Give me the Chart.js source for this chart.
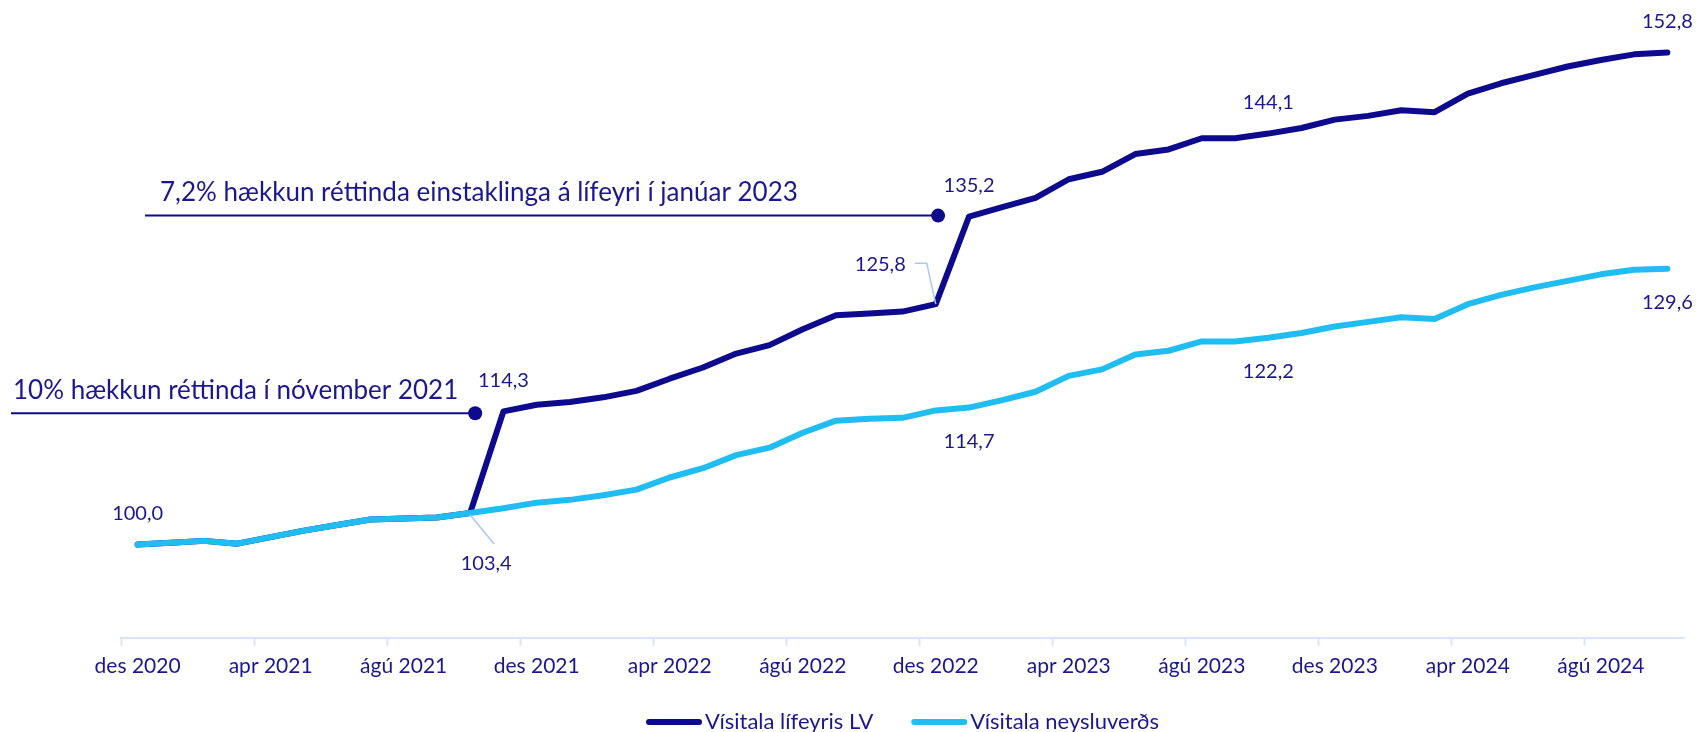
<!DOCTYPE html>
<html lang="is">
<head>
<meta charset="UTF-8">
<title>Vísitala lífeyris LV og vísitala neysluverðs</title>
<script src="https://cdn.jsdelivr.net/npm/chart.js"></script>
<style>
  html, body { margin: 0; padding: 0; background: #fff; }
  #wrap { width: 1697px; height: 732px; }
</style>
</head>
<body>
<div id="wrap"><canvas id="graf" width="1697" height="732"></canvas></div>
<script>
  // mánuðir, des 2020 - okt 2024
  const manudir = [
    'des 2020',
    'jan 2021', 'feb 2021', 'mar 2021', 'apr 2021', 'maí 2021', 'jún 2021', 'júl 2021', 'ágú 2021', 'sep 2021', 'okt 2021', 'nóv 2021', 'des 2021',
    'jan 2022', 'feb 2022', 'mar 2022', 'apr 2022', 'maí 2022', 'jún 2022', 'júl 2022', 'ágú 2022', 'sep 2022', 'okt 2022', 'nóv 2022', 'des 2022',
    'jan 2023', 'feb 2023', 'mar 2023', 'apr 2023', 'maí 2023', 'jún 2023', 'júl 2023', 'ágú 2023', 'sep 2023', 'okt 2023', 'nóv 2023', 'des 2023',
    'jan 2024', 'feb 2024', 'mar 2024', 'apr 2024', 'maí 2024', 'jún 2024', 'júl 2024', 'ágú 2024', 'sep 2024', 'okt 2024'
  ];
  // merktir mánuðir á x-ás
  const asMerki = ['des 2020', 'apr 2021', 'ágú 2021', 'des 2021', 'apr 2022', 'ágú 2022', 'des 2022', 'apr 2023', 'ágú 2023', 'des 2023', 'apr 2024', 'ágú 2024'];

  const lifeyrir = [
    100.0, 100.2, 100.4, 100.1, 100.8, 101.5, 102.1, 102.7, 102.8, 102.9, 103.4, 114.3,
    115.0, 115.3, 115.8, 116.5, 117.8, 119.0, 120.5, 121.4, 123.1, 124.6, 124.8, 125.0,
    125.8, 135.2, 136.2, 137.2, 139.2, 140.0, 141.9, 142.4, 143.6, 143.6, 144.1, 144.7,
    145.6, 146.0, 146.6, 146.4, 148.4, 149.5, 150.4, 151.3, 152.0, 152.6, 152.8
  ];
  const neysluverd = [
    100.0, 100.2, 100.4, 100.1, 100.8, 101.5, 102.1, 102.7, 102.8, 102.9, 103.4, 103.9,
    104.5, 104.8, 105.3, 105.9, 107.2, 108.2, 109.6, 110.4, 112.0, 113.3, 113.5, 113.6,
    114.4, 114.7, 115.5, 116.4, 118.1, 118.8, 120.4, 120.8, 121.8, 121.8, 122.2, 122.7,
    123.4, 123.9, 124.4, 124.2, 125.8, 126.8, 127.6, 128.3, 129.0, 129.5, 129.6
  ];

  // gildi sem eru merkt á línurnar (röð 0 = lífeyrir, 1 = neysluverð)
  const merktOfan = [[0, 11], [0, 25], [0, 34], [0, 46], [1, 0]];
  const merktNedan = [[1, 25], [1, 34], [1, 46]];

  const dokkur = '#0d0a8e';
  const ljos = '#20bdf3';
  const textalitur = '#1b1793';
  const aslitur = '#d9e5f7';
  const leidari = '#a8c8f3';
  const letur = 'Lato, "Open Sans", sans-serif';

  const tala = v => v.toFixed(1).replace('.', ',');

  const skyringar = {
    id: 'skyringar',
    afterDatasetsDraw(chart) {
      const { ctx, scales: { x, y } } = chart;
      const gogn = [lifeyrir, neysluverd];
      ctx.save();
      ctx.fillStyle = textalitur;
      ctx.font = '20px ' + letur;
      ctx.textAlign = 'center';
      ctx.textBaseline = 'middle';
      merktOfan.forEach(([r, i]) => {
        ctx.fillText(tala(gogn[r][i]), x.getPixelForValue(i), y.getPixelForValue(gogn[r][i]) - 31);
      });
      merktNedan.forEach(([r, i]) => {
        ctx.fillText(tala(gogn[r][i]), x.getPixelForValue(i), y.getPixelForValue(gogn[r][i]) + 34);
      });

      // 103,4 með leiðara
      let px = x.getPixelForValue(10), py = y.getPixelForValue(neysluverd[10]);
      ctx.strokeStyle = leidari;
      ctx.lineWidth = 1.5;
      ctx.beginPath();
      ctx.moveTo(px, py + 2);
      ctx.lineTo(px + 24, py + 31);
      ctx.stroke();
      ctx.fillText(tala(neysluverd[10]), px + 16, py + 51);

      // 125,8 með leiðara
      px = x.getPixelForValue(24); py = y.getPixelForValue(lifeyrir[24]);
      ctx.beginPath();
      ctx.moveTo(px, py);
      ctx.lineTo(px - 9, py - 41);
      ctx.lineTo(px - 21, py - 41);
      ctx.stroke();
      ctx.textAlign = 'right';
      ctx.fillText(tala(lifeyrir[24]), px - 30, py - 40);

      // skýringartextar með línu og punkti
      const athugasemdir = [
        { texti: '10% hækkun réttinda í nóvember 2021', i: 10.15, gildi: 114.1, lina: 11, textiX: 13 },
        { texti: '7,2% hækkun réttinda einstaklinga á lífeyri í janúar 2023', i: 24.07, gildi: 135.3, lina: 145, textiX: 160 }
      ];
      ctx.textAlign = 'left';
      ctx.textBaseline = 'alphabetic';
      ctx.font = '26px ' + letur;
      athugasemdir.forEach(a => {
        const dx = x.getPixelForValue(a.i), dy = y.getPixelForValue(a.gildi);
        ctx.strokeStyle = dokkur;
        ctx.lineWidth = 2;
        ctx.beginPath();
        ctx.moveTo(a.lina, dy);
        ctx.lineTo(dx, dy);
        ctx.stroke();
        ctx.fillStyle = dokkur;
        ctx.beginPath();
        ctx.arc(dx, dy, 7, 0, Math.PI * 2);
        ctx.fill();
        ctx.fillStyle = textalitur;
        ctx.fillText(a.texti, a.textiX, dy - 14.5);
      });
      ctx.restore();
    },
    afterDraw(chart) {
      // skýringarmynd neðst
      const { ctx, chartArea } = chart;
      ctx.save();
      ctx.font = '22px ' + letur;
      ctx.textBaseline = 'middle';
      const items = chart.data.datasets.map(d => ({ label: d.label, color: d.borderColor, w: ctx.measureText(d.label).width }));
      const heild = items.reduce((s, it) => s + 56 + 3 + it.w, 0) + 38 * (items.length - 1);
      let cx = (chartArea.left + chartArea.right) / 2 - heild / 2;
      const cy = 722;
      items.forEach(it => {
        ctx.strokeStyle = it.color;
        ctx.lineWidth = 6;
        ctx.lineCap = 'round';
        ctx.beginPath();
        ctx.moveTo(cx + 3, cy);
        ctx.lineTo(cx + 53, cy);
        ctx.stroke();
        ctx.fillStyle = textalitur;
        ctx.fillText(it.label, cx + 59, cy);
        cx += 56 + 3 + it.w + 38;
      });
      ctx.restore();
    }
  };

  new Chart(document.getElementById('graf'), {
    type: 'line',
    data: {
      labels: manudir,
      datasets: [
        { label: 'Vísitala lífeyris LV', data: lifeyrir, borderColor: dokkur, order: 1 },
        { label: 'Vísitala neysluverðs', data: neysluverd, borderColor: ljos, order: 0 }
      ]
    },
    options: {
      responsive: false,
      animation: false,
      layout: { padding: { left: 121, right: 13, top: 32, bottom: 45 } },
      elements: {
        line: { borderWidth: 6, tension: 0, borderCapStyle: 'round', borderJoinStyle: 'round' },
        point: { radius: 0 }
      },
      plugins: { legend: { display: false }, tooltip: { enabled: false } },
      scales: {
        x: {
          offset: true,
          grid: {
            offset: true,
            drawOnChartArea: false,
            tickLength: 8,
            tickWidth: 2,
            tickColor: c => (c.index % 4 === 0 ? aslitur : 'rgba(0,0,0,0)')
          },
          border: { color: aslitur, width: 2 },
          ticks: {
            autoSkip: false,
            maxRotation: 0,
            padding: 8,
            color: textalitur,
            font: { family: letur, size: 21 },
            callback: function (v) {
              const l = this.getLabelForValue(v);
              return asMerki.includes(l) ? l : '';
            }
          }
        },
        y: { display: false, min: 90, max: 155 }
      }
    },
    plugins: [skyringar]
  });
</script>
</body>
</html>
